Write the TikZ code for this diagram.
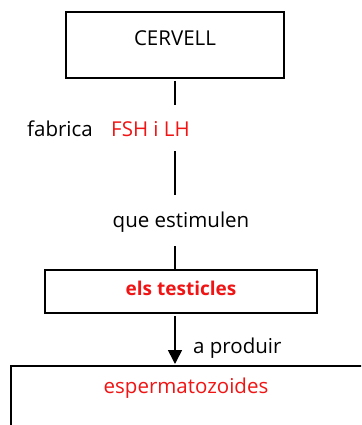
\documentclass[tikz,border=0pt]{standalone}
\usepackage{fontspec}
\setmainfont{Open Sans}
\usetikzlibrary{arrows.meta}
\definecolor{myred}{RGB}{240,20,20}
\begin{document}
\begin{tikzpicture}[x=1pt,y=-1pt,
  box/.style={draw=black, line width=1.6pt, fill=none, inner sep=0pt},
  txt/.style={inner sep=0pt, font=\fontsize{20.5}{22}\selectfont},
  conn/.style={line width=1.6pt}]
\useasboundingbox (0,0) rectangle (361,425);
\clip (0,0) rectangle (361,425);
\node[box, minimum width=218pt, minimum height=66pt] (cervell) at (175,45) {};
\node[txt] (cervelltxt) at (175,38) {CERVELL};
\coordinate (c1) at (175,105);
\node[txt, anchor=west] (fab) at (27,129) {fabrica};
\node[txt, anchor=west, text=myred] (fsh) at (111,129) {FSH i LH};
\coordinate (c2) at (175,151);
\coordinate (c3) at (175,195);
\node[txt] (que) at (181,222) {que estimulen};
\coordinate (c4) at (175,246);
\node[box, minimum width=272pt, minimum height=43pt] (test) at (181,291.5) {};
\node[txt, text=myred, font=\fontsize{19}{22}\selectfont\bfseries] (testtxt) at (181,288) {els testicles};
\node[box, anchor=north west, minimum width=400pt, minimum height=100pt] (esp) at (10,365) {};
\node[txt, text=myred] (esptxt) at (186,388) {espermatozoides};
\coordinate (t1) at (175,316);
\coordinate (t2) at (175,364);
\node[txt, anchor=west] (prod) at (193,348) {a produir};
\draw[conn] ([yshift=-2pt]cervell.south -| c1) -- (c1);
\draw[conn] (c2) -- (c3);
\draw[conn] (c4) -- (c4 |- test.north);
\draw[conn, -{Triangle[width=14pt,length=14pt]}] (t1) -- (t2);
\end{tikzpicture}
\end{document}
